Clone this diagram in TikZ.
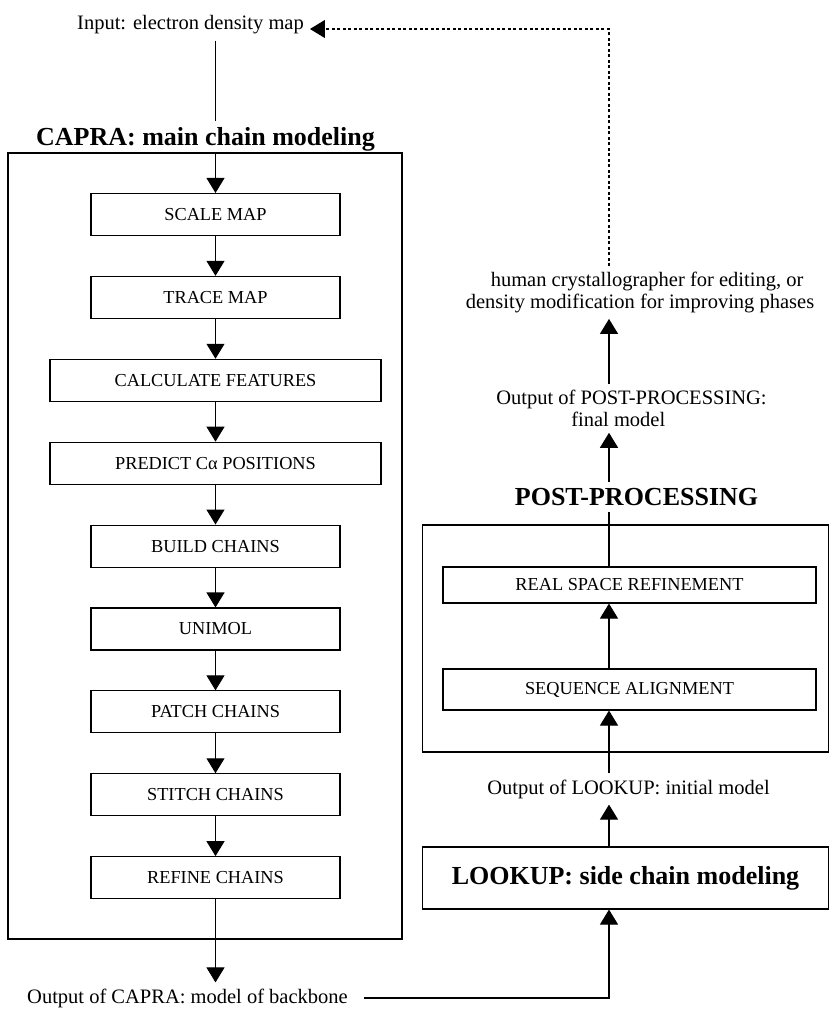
\documentclass[tikz,border=0pt]{standalone}
\usepackage{fontspec}
\setmainfont{Liberation Serif}
\usetikzlibrary{arrows.meta}
\usetikzlibrary{positioning}

\tikzset{
  stepbox/.style={draw, line width=1.1pt, minimum height=42, inner sep=0pt, font=\fontsize{18.3}{20}\selectfont},
  frame/.style={draw, line width=1.1pt, inner sep=0pt},
  note/.style={font=\fontsize{20.5}{21.5}\selectfont, inner sep=6pt},
  heading/.style={font=\fontsize{26}{28}\selectfont\bfseries, inner sep=6pt},
  link/.style={line width=1.1pt},
}

\begin{document}
\begin{tikzpicture}[x=1pt, y=-1pt, >={Triangle[length=15pt, width=18pt]}]
    \useasboundingbox (0,0) rectangle (830,1010);

    % Input and CAPRA frame
    \node[note] (input) at (190.5,25) {Input: electron density map};
    \node[heading] (capratitle) at (205.5,139) {CAPRA: main chain modeling};
    \node[frame, minimum width=394, minimum height=786] (capra) at (205,546) {};

    % CAPRA steps
    \foreach \name/\txt/\w [count=\i] in {scale/SCALE MAP/249, trace/TRACE MAP/249, calc/CALCULATE FEATURES/331, predict/PREDICT Cα POSITIONS/331, build/BUILD CHAINS/249, unimol/UNIMOL/249, patch/PATCH CHAINS/249, stitch/STITCH CHAINS/249, refine/REFINE CHAINS/249} {
        \node[stepbox, minimum width=\w] (\name) at (215.5, {214.5+(\i-1)*82.9}) {\txt};
    }

    \node[note] (capout) at (187.5,998) {Output of CAPRA: model of backbone};

    % Connections CAPRA
    \draw[link] (input.south -| scale) -- (capratitle.north -| scale);
    \draw[link, ->] (scale.north |- capra.north) -- (scale.north);
    \foreach \a/\b in {scale/trace, trace/calc, calc/predict, predict/build, build/unimol, unimol/patch, patch/stitch, stitch/refine} {
        \draw[link, ->] (\a) -- (\b);
    }
    \draw[link, ->] (refine) -- (refine |- capout.north);

    % LOOKUP and POST-PROCESSING
    \coordinate (rcol) at (609,0);
    \node[frame, heading, minimum width=406, minimum height=62] (lookup) at (625.5,878) {LOOKUP: side chain modeling};
    \node[note] (lookout) at (628.5,789) {Output of LOOKUP: initial model};
    \node[frame, minimum width=406, minimum height=227] (post) at (625.5,638.5) {};
    \node[stepbox, minimum width=373, minimum height=36] (real) at (629.5,585) {REAL SPACE REFINEMENT};
    \node[stepbox, minimum width=373, minimum height=41] (seq) at (629.5,689.5) {SEQUENCE ALIGNMENT};
    \node[heading] (posttitle) at (636.5,497) {POST-PROCESSING};
    \node[note, align=left] (postout) at (631.5,408.5) {Output of POST-PROCESSING:\\\hspace*{75pt}final model};
    \node[note, align=left] (human) at (640,292.5) {\hspace*{25pt}human crystallographer for editing, or\\density modification for improving phases};

    % Connections right side
    \draw[link, ->, shorten <=10pt] (capout.east) -| (rcol |- lookup.south);
    \draw[link, ->] (rcol |- lookup.north) -- (rcol |- lookout.south);
    \draw[link, ->] (rcol |- lookout.north) -- (rcol |- seq.south);
    \draw[link, ->] (rcol |- seq.north) -- (rcol |- real.south);
    \draw[link] (rcol |- real.north) -- (rcol |- posttitle.south);
    \draw[link, ->] (rcol |- posttitle.north) -- (rcol |- postout.south);
    \draw[link, ->] (rcol |- postout.north) -- (rcol |- human.south);
    \draw[link, dash pattern=on 3pt off 2.5pt, ->] (rcol |- human.north) |- ([yshift=-4pt]input.east);
\end{tikzpicture}
\end{document}
